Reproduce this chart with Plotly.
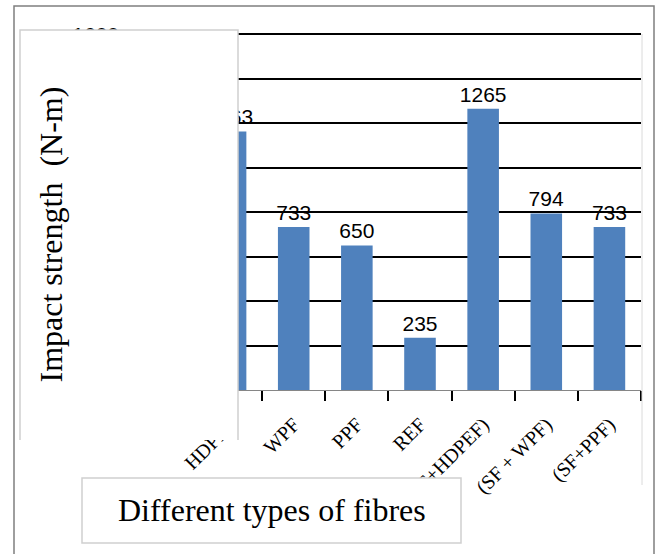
import plotly.graph_objects as go

categories = ["HDPEF", "WPF", "PPF", "REF", "(SF+HDPEF)", "(SF + WPF)", "(SF+PPF)"]
impact_strength = [1163, 733, 650, 235, 1265, 794, 733]
y_ticks = [0, 200, 400, 600, 800, 1000, 1200, 1400, 1600]

W, H = 657, 554
L, R, T, B = 199, 641, 32, 390
Y_MAX = 1610


def px2x(px):
    return (px - L) / (R - L)


def py2y(py):
    return (B - py) / (B - T)


fig = go.Figure()
fig.add_trace(go.Bar(
    x=categories,
    y=impact_strength,
    marker=dict(color="#4F81BD", line=dict(width=0)),
    text=[str(v) for v in impact_strength],
    textposition="outside",
    constraintext="none",
    textfont=dict(family="Liberation Sans", size=21, color="black"),
    cliponaxis=False,
))

shapes = []
# faint chart-area edge on the right
shapes.append(dict(type="line", xref="paper", yref="paper",
                   x0=px2x(642), x1=px2x(642), y0=py2y(34), y1=py2y(485),
                   line=dict(color="#DADADA", width=1), layer="above"))
# outer frame
shapes.append(dict(type="path", xref="paper", yref="paper",
                   path=f"M {px2x(14)} {py2y(560)} L {px2x(14)} {py2y(6)} L {px2x(654)} {py2y(6)} L {px2x(654)} {py2y(560)}",
                   line=dict(color="#7F7F7F", width=1.5), layer="above"))
# left text box (covers y axis)
shapes.append(dict(type="rect", xref="paper", yref="paper",
                   x0=px2x(20), x1=px2x(238), y0=py2y(440), y1=py2y(30),
                   fillcolor="white", line=dict(width=0), layer="above"))
shapes.append(dict(type="path", xref="paper", yref="paper",
                   path=f"M {px2x(20)} {py2y(440)} L {px2x(20)} {py2y(30)} L {px2x(238)} {py2y(30)} L {px2x(238)} {py2y(440)}",
                   line=dict(color="#D0D0D0", width=1.5), layer="above"))
# bottom text box
shapes.append(dict(type="rect", xref="paper", yref="paper",
                   x0=px2x(82), x1=px2x(461), y0=py2y(543), y1=py2y(478),
                   fillcolor="white", line=dict(color="#D0D0D0", width=1.5), layer="above"))

fig.update_layout(
    width=W, height=H,
    margin=dict(l=L, r=W - R, t=T, b=H - B, autoexpand=False),
    paper_bgcolor="white", plot_bgcolor="white",
    showlegend=False,
    bargap=0.5,
    shapes=shapes,
    xaxis=dict(
        showline=True, linecolor="#868686", linewidth=1,
        ticks="outside", ticklen=10, tickwidth=2, tickcolor="black",
        tickson="boundaries",
        tickangle=-45,
        ticklabelstandoff=14,
        tickfont=dict(family="Liberation Serif", size=20, color="black"),
        showgrid=False,
    ),
    yaxis=dict(
        range=[0, Y_MAX],
        tickvals=y_ticks,
        showgrid=True, gridcolor="black", gridwidth=1.5,
        zeroline=False, showline=False,
        tickfont=dict(family="Liberation Sans", size=21, color="black"),
        ticklabelstandoff=79,
    ),
    annotations=[
        dict(text="Impact strength  (N-m)", xref="paper", yref="paper",
             x=px2x(50.5), y=py2y(235), textangle=-90, showarrow=False,
             xanchor="center", yanchor="middle",
             font=dict(family="Liberation Serif", size=32, color="black")),
        dict(text="Different types of fibres", xref="paper", yref="paper",
             x=px2x(271.5), y=py2y(510), showarrow=False,
             xanchor="center", yanchor="middle",
             font=dict(family="Liberation Serif", size=32, color="black")),
    ],
)

fig.write_html("out.html", config={"displayModeBar": False},
               post_script="document.body.style.margin='0';")
